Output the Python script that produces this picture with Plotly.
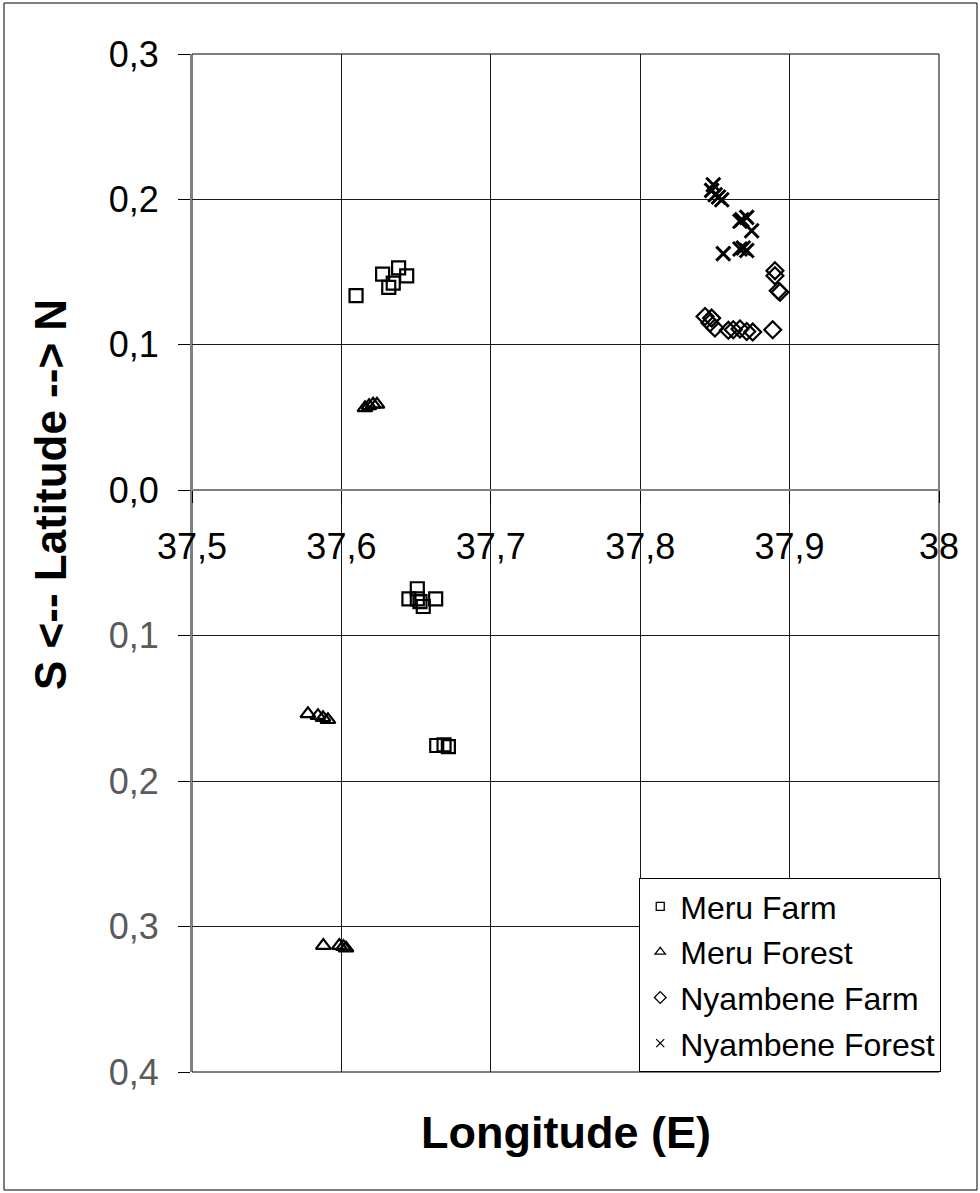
import plotly.graph_objects as go

# Sample site coordinates (longitude E, latitude N; south is negative)
meru_farm_lon = [37.6098, 37.6276, 37.6383, 37.6437, 37.6347, 37.6317,
                 37.6508, 37.6452, 37.6508, 37.6548, 37.6631, 37.6526,
                 37.6638, 37.6687, 37.6716]
meru_farm_lat = [0.1338, 0.1487, 0.1530, 0.1475, 0.1425, 0.1395,
                 -0.0677, -0.0746, -0.0746, -0.0799, -0.0746, -0.0765,
                 -0.1755, -0.1750, -0.1762]

meru_forest_lon = [37.6158, 37.6185, 37.6212, 37.6238,
                   37.5776, 37.5843, 37.5877, 37.5910,
                   37.5879, 37.5986, 37.6013, 37.6031]
meru_forest_lat = [0.0567, 0.0581, 0.0591, 0.0591,
                   -0.1537, -0.1550, -0.1564, -0.1578,
                   -0.3131, -0.3131, -0.3138, -0.3149]

nyambene_farm_lon = [37.8902, 37.8902, 37.8924, 37.8936, 37.8434, 37.8478,
                     37.8467, 37.8500, 37.8590, 37.8623, 37.8668, 37.8713,
                     37.8753, 37.8887]
nyambene_farm_lat = [0.1510, 0.1475, 0.1372, 0.1362, 0.1195, 0.1184,
                     0.1150, 0.1116, 0.1100, 0.1104, 0.1109, 0.1092,
                     0.1088, 0.1104]

nyambene_forest_lon = [37.8489, 37.8478, 37.8502, 37.8524, 37.8546, 37.8680,
                       37.8713, 37.8746, 37.8556, 37.8668, 37.8690, 37.8713,
                       37.8668]
nyambene_forest_lat = [0.2101, 0.2062, 0.2032, 0.2017, 0.1998, 0.1860,
                       0.1877, 0.1785, 0.1627, 0.1659, 0.1666, 0.1649,
                       0.1850]

series_names = ["Meru Farm", "Meru Forest", "Nyambene Farm", "Nyambene Forest"]

x_range = [37.5, 38.0]
y_range = [-0.4, 0.3]
y_ticks = [0.3, 0.2, 0.1, 0.0, -0.1, -0.2, -0.3, -0.4]


def lat_label(v):
    txt = f"{abs(v):.1f}".replace(".", ",")
    if v < 0:
        return f'<span style="color:#5a5a5a">{txt}</span>'
    return txt


series = [
    (series_names[0], meru_farm_lon, meru_farm_lat, "square-open", 13, 2.2, 8),
    (series_names[1], meru_forest_lon, meru_forest_lat, "triangle-up-open", 13, 2.2, 9),
    (series_names[2], nyambene_farm_lon, nyambene_farm_lat, "diamond-open", 13, 2.2, 9),
    (series_names[3], nyambene_forest_lon, nyambene_forest_lat, "x-thin-open", 14, 3.0, 8),
]

fig = go.Figure()
for i, (name, xs, ys, sym, size, lw, lsize) in enumerate(series):
    fig.add_trace(go.Scatter(
        x=xs, y=ys, mode="markers", name=name, showlegend=False,
        marker=dict(symbol=sym, size=size, color="black",
                    line=dict(color="black", width=lw)),
    ))
    # small legend swatch
    fig.add_trace(go.Scatter(
        x=[None], y=[None], mode="markers", name=name, legendgroup=f"g{i}",
        marker=dict(symbol=sym, size=lsize, color="black",
                    line=dict(color="black", width=1.3)),
    ))

font_family = "Liberation Sans, Arial, sans-serif"

fig.update_layout(
    width=980, height=1193,
    margin=dict(l=192, r=41, t=54, b=121),
    paper_bgcolor="white", plot_bgcolor="white",
    font=dict(family=font_family, color="black"),
    separators=",.",
    showlegend=True,
    legend=dict(
        x=1.003, xanchor="right", y=0.0, yanchor="bottom",
        bgcolor="white", bordercolor="black", borderwidth=1,
        font=dict(size=32, family=font_family, color="black"),
        tracegroupgap=1,
    ),
    xaxis=dict(
        range=x_range, tick0=37.5, dtick=0.1,
        showgrid=True, gridcolor="#1a1a1a", gridwidth=1,
        zeroline=False,
        anchor="free",
        position=(0 - y_range[0]) / (y_range[1] - y_range[0]),
        showline=True, linecolor="#808080", linewidth=2,
        ticks="outside", ticklen=12, tickcolor="black", tickwidth=1,
        tickfont=dict(size=36, family=font_family, color="black"),
        ticklabelstandoff=13,
    ),
    yaxis=dict(
        range=y_range, tickmode="array", tickvals=y_ticks,
        ticktext=[lat_label(v) for v in y_ticks],
        showgrid=True, gridcolor="#1a1a1a", gridwidth=1,
        zeroline=False,
        showline=True, linecolor="#808080", linewidth=2,
        ticks="outside", ticklen=12, tickcolor="black", tickwidth=1,
        tickfont=dict(size=36, family=font_family, color="black"),
        ticklabelstandoff=12,
    ),
    shapes=[
        # plot area frame
        dict(type="rect", xref="x domain", yref="y domain",
             x0=0, x1=1, y0=0, y1=1, layer="below",
             line=dict(color="black", width=1)),
        # outer chart border
        dict(type="rect", xref="paper", yref="paper",
             x0=(4 - 192) / 747, x1=(977 - 192) / 747,
             y0=(1072 - 1190) / 1018, y1=(1072 - 3) / 1018,
             line=dict(color="black", width=1)),
    ],
    annotations=[
        dict(text="<b>Longitude (E)</b>", xref="paper", yref="paper",
             x=0.5, y=(1072 - 1132) / 1018, xanchor="center", yanchor="middle",
             showarrow=False,
             font=dict(size=45, family=font_family, color="black")),
        dict(text="<b>S &lt;-- Latitude --&gt; N</b>", xref="paper", yref="paper",
             x=(50 - 192) / 747, y=(1072 - 495) / 1018,
             xanchor="center", yanchor="middle",
             textangle=-90, showarrow=False,
             font=dict(size=44, family=font_family, color="black")),
    ],
)

fig.write_html("out.html")
